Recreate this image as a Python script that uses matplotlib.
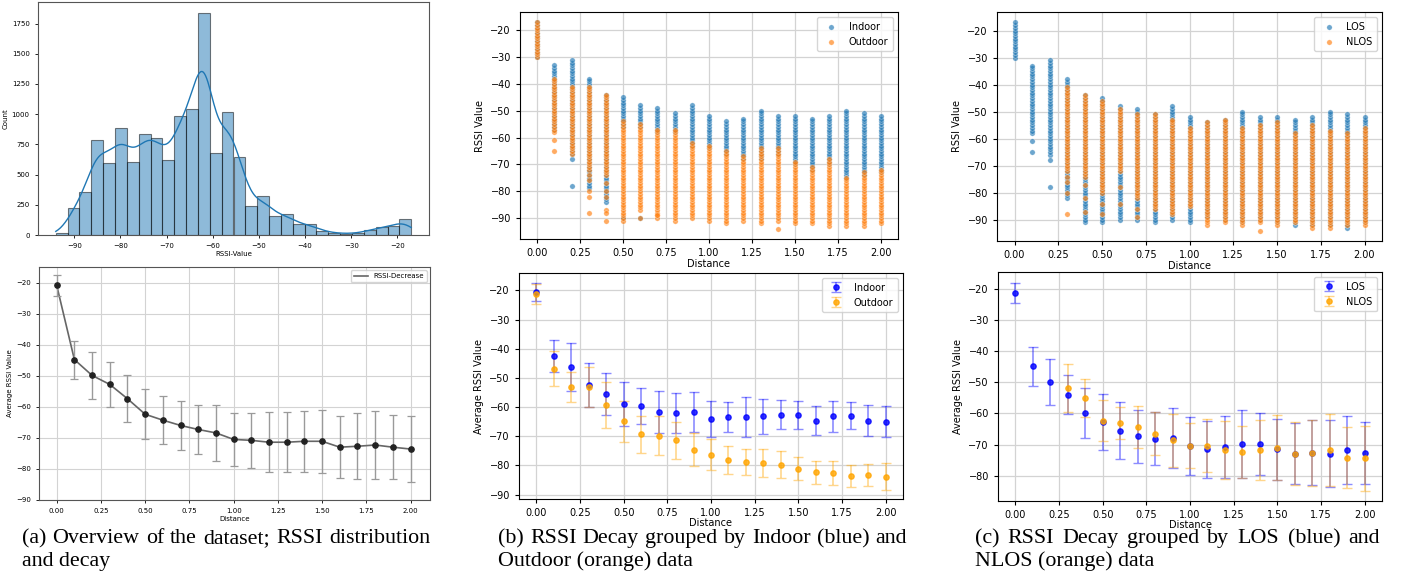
import numpy as np
import matplotlib
matplotlib.use("Agg")
import matplotlib.pyplot as plt

W, H = 1403, 574

# ---- (a) top: RSSI histogram, 30 bins between min and max ----
rssi_min, rssi_max = -94, -17
hist_counts = [20, 221, 356, 787, 599, 883, 604, 834, 806, 618, 988, 1041, 1836, 676,
               1021, 643, 237, 326, 160, 171, 88, 88, 33, 17, 11, 14, 41, 63, 77, 135]

distance = [0.0, 0.1, 0.2, 0.3, 0.4, 0.5, 0.6, 0.7, 0.8, 0.9, 1.0,
            1.1, 1.2, 1.3, 1.4, 1.5, 1.6, 1.7, 1.8, 1.9, 2.0]

# ---- (a) bottom: average RSSI per distance ----
avg_mean = [-20.9, -44.8, -49.9, -52.8, -57.4, -62.4, -64.3, -66.0, -67.3, -68.4, -70.5,
            -70.8, -71.4, -71.4, -71.1, -71.1, -73.0, -72.7, -72.3, -73.0, -73.6]
avg_std = [3.3, 6.1, 7.5, 7.2, 7.5, 8.0, 7.8, 8.0, 8.0, 9.0, 8.6,
           8.9, 9.6, 9.7, 9.8, 10.2, 10.0, 10.6, 11.1, 10.3, 10.5]

# ---- scatter columns: integer RSSI range per distance (top, bottom) ----
indoor_top = [-17, -33, -31, -38, -44, -45, -48, -49, -51, -48, -52,
              -54, -53, -50, -52, -52, -53, -52, -50, -51, -52]
indoor_bot = [-30, -57, -66, -79, -84, -56, -56, -58, -58, -63, -64,
              -66, -68, -68, -66, -70, -72, -70, -75, -74, -73]
indoor_extra = [(0.2, -68), (0.2, -78), (0.5, -90), (0.6, -90)]

outdoor_top = [-17, -38, -41, -41, -44, -54, -55, -57, -57, -62, -63,
               -65, -67, -64, -64, -69, -71, -68, -75, -73, -72]
outdoor_bot = [-30, -58, -66, -72, -74, -91, -87, -90, -91, -90, -91,
               -92, -91, -92, -91, -92, -92, -93, -93, -93, -92]
outdoor_extra = [(0.1, -61), (0.1, -65), (0.3, -74), (0.3, -76), (0.3, -80), (0.3, -82),
                 (0.3, -88), (0.4, -77), (0.4, -80), (0.4, -82), (0.4, -87), (0.4, -88),
                 (0.4, -91), (0.6, -90), (0.7, -89), (1.4, -94)]

los_top = [-17, -33, -31, -38, -44, -45, -48, -49, -51, -48, -52,
           -54, -53, -50, -52, -52, -53, -52, -50, -51, -52]
los_bot = [-30, -58, -66, -82, -91, -91, -90, -90, -91, -90, -91,
           -89, -90, -91, -90, -91, -92, -92, -92, -93, -91]
los_extra = [(0.1, -61), (0.1, -65), (0.2, -68), (0.2, -78)]

nlos_dist = distance[3:]
nlos_top = [-41, -44, -46, -49, -51, -51, -53, -56, -54, -53, -56, -55, -54, -58, -55, -57, -58, -56]
nlos_bot = [-72, -74, -80, -72, -82, -86, -88, -85, -92, -91, -92, -91, -92, -91, -93, -93, -92, -92]
nlos_extra = [(0.3, -74), (0.3, -76), (0.3, -80), (0.3, -88), (0.4, -77), (0.4, -82),
              (0.4, -87), (0.5, -84), (0.5, -88), (0.6, -78), (0.6, -84), (0.7, -86),
              (0.7, -89), (1.4, -94)]

# ---- (b) bottom ----
indoor_mean = [-20.6, -42.5, -46.2, -52.3, -55.5, -58.9, -59.7, -61.8, -62.1, -61.6, -64.1,
               -63.3, -63.4, -63.2, -62.6, -62.6, -64.6, -63.2, -62.9, -64.6, -65.0]
indoor_std = [3.1, 5.5, 8.2, 7.6, 7.2, 7.6, 6.2, 7.2, 6.8, 6.8, 6.2,
              5.2, 6.8, 6.1, 5.0, 4.8, 5.0, 5.2, 4.5, 5.2, 5.3]
outdoor_mean = [-21.3, -46.9, -53.2, -53.0, -59.2, -64.9, -69.3, -69.8, -71.4, -74.6, -76.3,
                -78.0, -78.8, -79.2, -79.7, -81.1, -82.4, -82.6, -83.7, -83.4, -83.8]
outdoor_std = [3.5, 6.0, 5.2, 6.8, 7.8, 7.0, 6.3, 6.7, 6.3, 5.7, 5.4,
               4.8, 4.5, 4.8, 4.7, 4.0, 3.9, 4.1, 3.8, 3.8, 4.5]

# ---- (c) bottom ----
los_mean = [-21.2, -44.8, -49.9, -53.9, -59.8, -62.7, -65.6, -67.4, -68.1, -68.0, -70.4,
            -71.6, -70.8, -69.8, -69.9, -71.5, -72.9, -72.7, -73.0, -71.8, -72.7]
los_std = [3.2, 6.2, 7.5, 6.4, 8.0, 9.0, 9.2, 8.6, 8.5, 9.7, 9.4,
           9.2, 9.9, 11.0, 9.9, 9.8, 9.9, 10.5, 10.8, 11.0, 10.0]
nlos_mean = [-51.8, -55.1, -62.3, -63.0, -64.3, -66.5, -68.7, -70.4, -70.4, -71.8,
             -72.5, -71.8, -71.0, -72.9, -72.7, -71.8, -74.2, -74.5]
nlos_std = [7.6, 6.1, 6.7, 5.2, 6.8, 7.0, 8.4, 7.2, 8.6, 9.3,
            8.4, 9.6, 10.4, 10.1, 10.6, 11.6, 9.8, 10.6]

captions = [
    ("(a) Overview of the dataset; RSSI distribution", "and decay", 22, 430),
    ("(b) RSSI Decay grouped by Indoor (blue) and", "Outdoor (orange) data", 498, 907),
    ("(c) RSSI Decay grouped by LOS (blue) and", "NLOS (orange) data", 975, 1380),
]

BLUE = "#1f77b4"
ORANGE = "#ff7f0e"


def axes_px(left, top, right, bottom):
    return fig.add_axes([left / W, 1 - bottom / H, (right - left) / W, (bottom - top) / H])


def columns(dist, top, bot, extra):
    xs, ys = [], []
    for d, t, b in zip(dist, top, bot):
        vals = np.arange(b, t + 1)
        xs.extend([d] * len(vals))
        ys.extend(vals)
    for d, v in extra:
        xs.append(d)
        ys.append(v)
    return xs, ys


def scatter_panel(ax, groups):
    for dist, top, bot, extra, color, label in groups:
        xs, ys = columns(dist, top, bot, extra)
        ax.scatter(xs, ys, s=15, color=color, alpha=0.65, edgecolor="white",
                   linewidth=0.3, label=label, zorder=3)
    ax.set_xlim(-0.1, 2.1)
    ax.set_ylim(-97.85, -13.15)
    ax.set_yticks(range(-90, -19, 10))
    ax.set_xticks(np.arange(0, 2.01, 0.25))
    ax.grid(True, color="#d3d3d3", lw=0.9)
    ax.set_axisbelow(True)
    ax.set_xlabel("Distance", fontsize=7, labelpad=1)
    ax.set_ylabel("RSSI Value", fontsize=7)
    ax.tick_params(labelsize=7, length=3)
    ax.legend(loc="upper right", fontsize=7, handletextpad=0.8, borderpad=0.5)


def err(ax, x, m, s, color, label):
    line, caps, bars = ax.errorbar(x, m, yerr=s, fmt="o", color=color, ms=3.8,
                                   capsize=3.5, elinewidth=1.2, capthick=1.0,
                                   label=label, zorder=3)
    line.set_alpha(0.8)
    for c in caps:
        c.set_alpha(0.45)
    for b in bars:
        b.set_alpha(0.45)


def mean_panel(ax, ylim, yticks):
    ax.set_xlim(-0.1, 2.1)
    ax.set_ylim(*ylim)
    ax.set_yticks(yticks)
    ax.set_xticks(np.arange(0, 2.01, 0.25))
    ax.grid(True, color="#d3d3d3", lw=0.9)
    ax.set_axisbelow(True)
    ax.set_xlabel("Distance", fontsize=7, labelpad=0)
    ax.set_ylabel("Average RSSI Value", fontsize=7)
    ax.tick_params(labelsize=7, length=3)
    ax.legend(loc="upper right", fontsize=7, handletextpad=0.8, borderpad=0.5)


fig = plt.figure(figsize=(W / 100, H / 100), dpi=100)

# (a) top: histogram with kde
ax = axes_px(38, 2, 429, 235)
edges = np.linspace(rssi_min, rssi_max, len(hist_counts) + 1)
ax.hist(edges[:-1], bins=edges, weights=hist_counts, color=BLUE, alpha=0.5,
        edgecolor="black", linewidth=0.8)
centers = (edges[:-1] + edges[1:]) / 2
bw = edges[1] - edges[0]
grid = np.linspace(rssi_min, rssi_max, 300)
h = 2.1
cnt = np.array(hist_counts, dtype=float)
dens = (cnt[None, :] * np.exp(-0.5 * ((grid[:, None] - centers[None, :]) / h) ** 2)).sum(1)
dens = dens / (h * np.sqrt(2 * np.pi))
ax.plot(grid, dens * bw, color=BLUE, lw=1.0)
ax.set_xlim(-97.85, -13.15)
ax.set_ylim(0, 1928)
ax.set_xticks(range(-90, -19, 10))
ax.set_yticks(range(0, 1751, 250))
ax.set_xlabel("RSSI-Value", fontsize=5, labelpad=1)
ax.set_ylabel("Count", fontsize=5, labelpad=2)
ax.tick_params(labelsize=5, length=2.5, width=0.6)
for sp in ax.spines.values():
    sp.set_color("#555555")

# (a) bottom: average decay
ax = axes_px(39, 267, 430, 500)
ln, = ax.plot(distance, avg_mean, color="#666666", lw=1.2, label="RSSI-Decrease")
ax.errorbar(distance, avg_mean, yerr=avg_std, fmt="o", color="#222222", ms=3.8,
            ecolor="#9a9a9a", elinewidth=1.0, capsize=3, capthick=0.9, zorder=3)
ax.set_xlim(-0.1, 2.11)
ax.set_ylim(-90, -15)
ax.set_yticks(range(-90, -19, 10))
ax.set_xticks(np.arange(0, 2.01, 0.25))
ax.grid(True, color="#d3d3d3", lw=0.8)
ax.set_axisbelow(True)
ax.set_xlabel("Distance", fontsize=5, labelpad=1)
ax.set_ylabel("Average RSSI Value", fontsize=5, labelpad=2)
ax.tick_params(labelsize=5, length=2.5, width=0.6)
ax.legend(handles=[ln], loc="upper right", fontsize=5)
for sp in ax.spines.values():
    sp.set_color("#555555")

# (b) top
ax = axes_px(520, 12, 898, 239)
scatter_panel(ax, [
    (distance, indoor_top, indoor_bot, indoor_extra, BLUE, "Indoor"),
    (distance, outdoor_top, outdoor_bot, outdoor_extra, ORANGE, "Outdoor"),
])

# (b) bottom
ax = axes_px(519, 273, 903, 499)
err(ax, distance, indoor_mean, indoor_std, "blue", "Indoor")
err(ax, distance, outdoor_mean, outdoor_std, "orange", "Outdoor")
mean_panel(ax, (-91.5, -14), range(-90, -19, 10))

# (c) top
ax = axes_px(997, 12, 1382, 241)
scatter_panel(ax, [
    (distance, los_top, los_bot, los_extra, BLUE, "LOS"),
    (nlos_dist, nlos_top, nlos_bot, nlos_extra, ORANGE, "NLOS"),
])

# (c) bottom
ax = axes_px(998, 272, 1382, 501)
err(ax, distance, los_mean, los_std, "blue", "LOS")
err(ax, nlos_dist, nlos_mean, nlos_std, "orange", "NLOS")
mean_panel(ax, (-88.2, -14.4), range(-80, -19, 10))

# captions, first line justified
r = fig.canvas.get_renderer()
cap_font = dict(fontsize=15.8, family="Liberation Serif", va="baseline", zorder=10)
for line1, line2, x0, x1 in captions:
    words = line1.split()
    arts = [fig.text(0, 1 - 543 / H, w, **cap_font) for w in words]
    widths = [a.get_window_extent(renderer=r).width for a in arts]
    gap = (x1 - x0 - sum(widths)) / (len(words) - 1)
    x = x0
    for a, wd in zip(arts, widths):
        a.set_x(x / W)
        x += wd + gap
    fig.text(x0 / W, 1 - 566 / H, line2, **cap_font)

fig.savefig("out.png", dpi=100)
